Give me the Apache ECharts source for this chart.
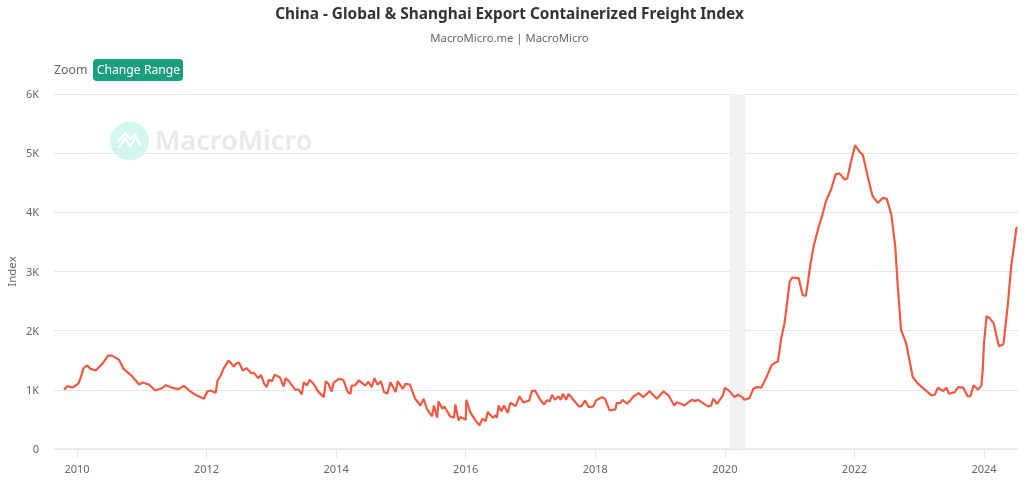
<!DOCTYPE html>
<html><head><meta charset="utf-8">
<style>html,body{margin:0;padding:0;background:#fff}#c{width:1024px;height:488px}</style>
<script src="https://cdn.jsdelivr.net/npm/echarts@6/dist/echarts.min.js"></script>
</head><body><div id="c"></div>
<script>
const titleText = "China - Global & Shanghai Export Containerized Freight Index";
const subtitleText = "MacroMicro.me | MacroMicro";
const seriesName = "Index";
const yearTicks = [2010,2012,2014,2016,2018,2020,2022,2024];
const yTicks = [0,1000,2000,3000,4000,5000,6000];
const shadedRange = [2020.08,2020.32];
const xRange = [2009.645,2024.525];
const years = [
2009.80,2009.85,2009.93,2010.02,2010.06,2010.10,2010.16,2010.21,2010.29,2010.39,2010.48,2010.54,2010.65,2010.72,2010.85,2010.96,
2011.01,2011.11,2011.21,2011.31,2011.37,2011.47,2011.57,2011.65,2011.75,2011.85,2011.96,
2012.01,2012.06,2012.14,2012.17,2012.22,2012.26,2012.34,2012.42,2012.45,2012.50,2012.56,2012.62,2012.69,2012.73,2012.80,2012.84,2012.89,2012.93,2012.96,
2013.01,2013.05,2013.13,2013.19,2013.22,2013.27,2013.37,2013.42,2013.47,2013.50,2013.55,2013.59,2013.65,2013.73,2013.81,2013.84,2013.88,2013.93,2013.96,
2014.04,2014.11,2014.18,2014.22,2014.24,2014.29,2014.35,2014.45,2014.50,2014.55,2014.59,2014.64,2014.69,2014.74,2014.79,2014.84,2014.92,2014.95,
2015.03,2015.07,2015.14,2015.22,2015.30,2015.35,2015.40,2015.48,2015.51,2015.56,2015.58,2015.64,2015.67,2015.76,2015.82,2015.84,2015.89,2015.92,2016.00,
2016.01,2016.07,2016.15,2016.21,2016.26,2016.31,2016.34,2016.42,2016.46,2016.48,2016.51,2016.55,2016.59,2016.65,2016.69,2016.72,2016.77,2016.83,2016.89,2016.98,
2017.02,2017.07,2017.15,2017.21,2017.25,2017.30,2017.33,2017.38,2017.43,2017.47,2017.50,2017.55,2017.59,2017.66,2017.75,2017.79,2017.84,2017.90,2017.97,
2018.01,2018.10,2018.15,2018.22,2018.31,2018.33,2018.39,2018.42,2018.49,2018.54,2018.59,2018.67,2018.74,2018.84,2018.95,
2019.05,2019.13,2019.22,2019.26,2019.38,2019.44,2019.49,2019.54,2019.59,2019.64,2019.67,2019.74,2019.79,2019.82,2019.88,2019.97,
2020.00,2020.06,2020.15,2020.20,2020.27,2020.30,2020.38,2020.44,2020.49,2020.56,2020.64,2020.72,2020.77,2020.82,2020.87,2020.92,2020.96,
2021.00,2021.04,2021.10,2021.14,2021.20,2021.25,2021.28,2021.32,2021.35,2021.37,2021.45,2021.50,2021.56,2021.64,2021.71,2021.77,2021.85,2021.89,2021.95,
2022.01,2022.07,2022.13,2022.21,2022.28,2022.36,2022.44,2022.50,2022.57,2022.63,2022.67,2022.72,2022.80,2022.85,2022.90,2022.98,
2023.06,2023.19,2023.24,2023.29,2023.37,2023.42,2023.46,2023.55,2023.60,2023.68,2023.75,2023.79,2023.84,2023.91,2023.96,2023.98,
2024.00,2024.04,2024.09,2024.15,2024.23,2024.30,2024.37,2024.42,2024.47,2024.50,2024.52];
const values = [
1000,1062,1040,1102,1214,1366,1411,1354,1326,1439,1579,1579,1506,1354,1231,1090,
1124,1090,989,1028,1079,1034,1012,1068,972,905,849,
972,989,950,1158,1242,1354,1495,1394,1439,1461,1326,1366,1281,1287,1197,1253,1102,1045,1169,
1146,1253,1214,1057,1197,1146,1000,1006,922,1130,1073,1169,1102,961,877,1146,1102,972,1118,
1186,1169,961,933,1073,1073,1158,1073,1135,1045,1197,1085,1146,961,933,1130,961,1146,
1017,1102,1090,849,736,849,680,551,736,528,804,680,719,551,528,753,483,540,495,
832,624,483,399,511,472,624,528,568,528,736,635,736,607,781,804,725,888,787,821,
978,989,832,753,821,809,916,832,888,832,933,832,933,832,719,725,821,708,719,
821,877,849,652,669,776,781,832,764,821,888,944,877,978,849,
972,905,736,792,736,792,832,809,832,792,821,719,736,849,764,906,
1030,991,877,917,877,832,860,1019,1047,1036,1206,1415,1455,1483,1868,2122,2462,
2830,2898,2887,2887,2604,2587,2802,3113,3113,3424,3764,3934,4188,4386,4641,4658,4556,4573,4868,
5134,5037,4969,4585,4273,4160,4245,4228,3962,3424,2745,2009,1783,1500,1217,1104,
1030,906,917,1036,979,1036,934,962,1047,1036,889,894,1075,1002,1075,1330,
1783,2247,2207,2122,1738,1772,2462,3085,3481,3736,3736];

const FONT = '"Noto Sans","Open Sans",sans-serif';
const chart = echarts.init(document.getElementById('c'), null, {renderer:'canvas'});
chart.setOption({
  animation:false,
  backgroundColor:'#fff',
  textStyle:{fontFamily:FONT},
  title:[
    {text:titleText,left:504.5,textAlign:'center',top:2,textStyle:{fontFamily:FONT,fontSize:15.4,fontWeight:'bold',color:'#333'}},
    {text:subtitleText,left:504.5,textAlign:'center',top:28,textStyle:{fontFamily:FONT,fontSize:11.3,fontWeight:'normal',color:'#666'}}
  ],
  grid:{left:54,right:6,top:94,bottom:39,outerBoundsMode:'none'},
  xAxis:{
    type:'value', min:xRange[0], max:xRange[1],
    axisLine:{lineStyle:{color:'#e6e6e6',width:1.5}},
    axisTick:{show:true,length:9,lineStyle:{color:'#e6e6e6'},customValues:yearTicks},
    axisLabel:{color:'#666',fontSize:11,fontFamily:FONT,margin:15,customValues:yearTicks,formatter:v=>String(v)},
    splitLine:{show:false}
  },
  yAxis:{
    type:'value', min:0, max:6000, interval:1000,
    name:seriesName, nameLocation:'middle', nameGap:35, nameMoveOverlap:false,
    nameTextStyle:{color:'#666',fontSize:11.5,fontFamily:FONT},
    axisLine:{show:false},axisTick:{show:false},
    axisLabel:{color:'#666',fontSize:11,fontFamily:FONT,margin:15,verticalAlign:'top',lineHeight:2,
      formatter:v=> yTicks.includes(v) ? (v===0?'0':(v/1000)+'K') : ''},
    splitLine:{lineStyle:{color:'#e6e6e6',width:1}}
  },
  graphic:[
    {type:'circle',silent:true,z:0,shape:{cx:129.5,cy:141,r:19.5},style:{fill:'#d3f7ef'}},
    {type:'polyline',silent:true,z:0,shape:{points:[[119,148],[125,138],[130,146],[136,137],[141,146]]},style:{stroke:'#fff',fill:null,lineWidth:2}},
    {type:'polyline',silent:true,z:0,shape:{points:[[118,142],[125,133],[130,139],[137,133]]},style:{stroke:'#fff',fill:null,lineWidth:2}},
    {type:'text',silent:true,z:0,style:{x:155,y:142,text:'MacroMicro',fill:'#e8e9eb',font:'600 27.2px '+FONT,textVerticalAlign:'middle',textBaseline:'middle'}},
    {type:'text',silent:true,z:5,style:{x:54,y:70.5,text:'Zoom',fill:'#666',font:'12.3px '+FONT,textVerticalAlign:'middle',textBaseline:'middle'}},
    {type:'rect',silent:true,z:5,shape:{x:93,y:59,width:90,height:22,r:4},style:{fill:'#1a9e7c'}},
    {type:'text',silent:true,z:6,style:{x:138.5,y:70.5,text:'Change Range',fill:'#fff',font:'12.2px '+FONT,textAlign:'center',textVerticalAlign:'middle',textBaseline:'middle'}}
  ],
  series:[{
    name:seriesName,type:'line',data:years.map((y,i)=>[y,values[i]]),showSymbol:false,symbol:'none',smooth:false,
    lineStyle:{color:'#ee5a42',width:2.2},itemStyle:{color:'#ee5a42'},
    markArea:{silent:true,itemStyle:{color:'#f2f2f2'},data:[[{xAxis:shadedRange[0]},{xAxis:shadedRange[1]}]]}
  }]
});
</script></body></html>
